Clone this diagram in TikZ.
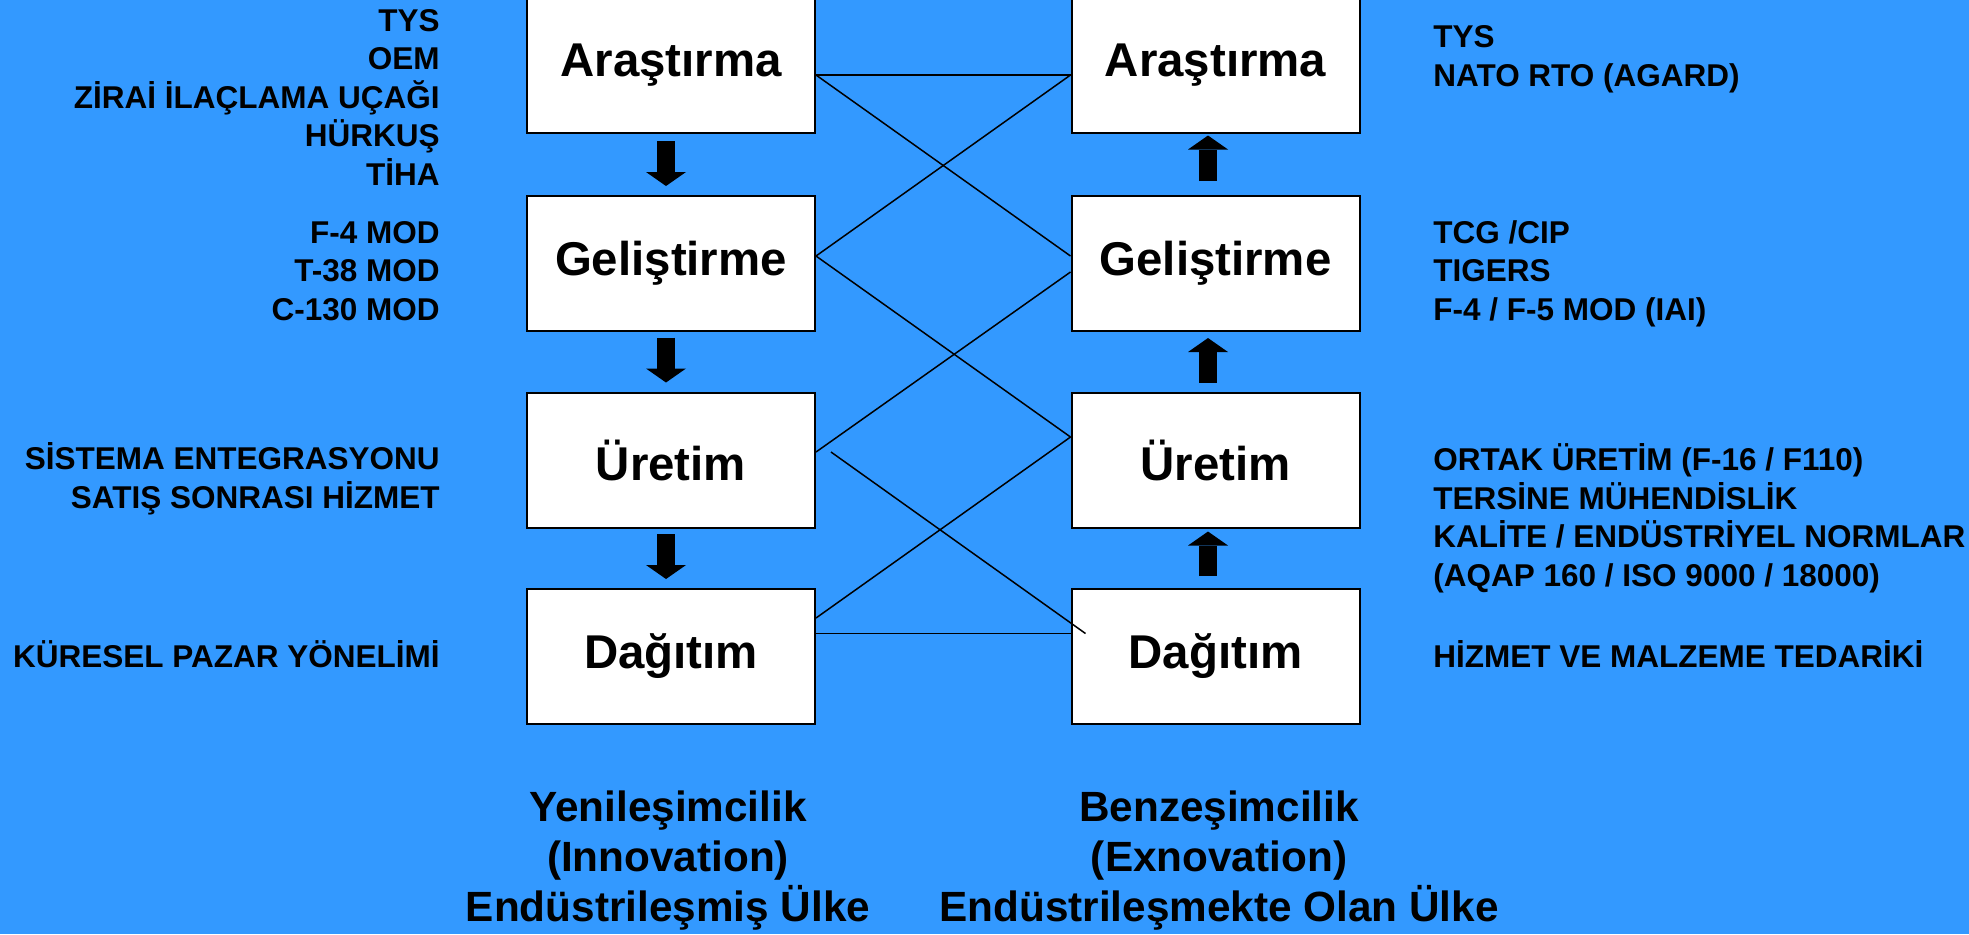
\documentclass[tikz,border=0pt]{standalone}
\usepackage{fontspec}
\setmainfont{Liberation Sans}
\usepackage{tikz}
\usetikzlibrary{arrows.meta}

\definecolor{slideblue}{RGB}{51,153,255}

\begin{document}
\begin{tikzpicture}[x=0.5pt,y=0.5pt]
        \tikzstyle{every node}+=[inner sep=0pt]
        \tikzstyle{stage}=[draw=black, fill=white, line width=1pt, minimum width=144pt, minimum height=67.5pt, font=\bfseries\fontsize{23.7}{28}\selectfont]
        \tikzstyle{note}=[font=\bfseries\fontsize{15.75}{19.25}\selectfont]
        \tikzstyle{caption}=[align=center, font=\bfseries\fontsize{21.15}{25}\selectfont]
        \tikzstyle{link}=[black, line width=0.75pt]
        \tikzstyle{flow}=[black, line width=9pt, -{Triangle[length=7pt,width=20pt,line width=0pt]}]
        \useasboundingbox (0,0) rectangle (1969,-934);
        \fill [slideblue] (0,0) rectangle (1969,-934);
        % left column
        \node [stage] (arL) at (671,-65.5) {Araştırma};
        \node [stage] (geL) at (671,-263.5) {Geliştirme};
        \node [stage] (urL) at (671,-460) {Üretim};
        \node [stage] (daL) at (671,-656.5) {Dağıtım};
        % right column
        \node [stage] (arR) at (1215.5,-65.5) {Araştırma};
        \node [stage] (geR) at (1215.5,-263.5) {Geliştirme};
        \node [stage] (urR) at (1215.5,-460) {Üretim};
        \node [stage] (daR) at (1215.5,-656.5) {Dağıtım};
        % down arrows
        \draw [flow] ([xshift=-2.5pt,yshift=-3.5pt]arL.south) -- ([xshift=-2.5pt,yshift=4.5pt]geL.north);
        \draw [flow] ([xshift=-2.5pt,yshift=-2.75pt]geL.south) -- ([xshift=-2.5pt,yshift=4.5pt]urL.north);
        \draw [flow] ([xshift=-2.5pt,yshift=-2.75pt]urL.south) -- ([xshift=-2.5pt,yshift=4.5pt]daL.north);
        % up arrows
        \draw [flow] ([xshift=-3.75pt,yshift=7pt]geR.north) -- ([xshift=-3.75pt,yshift=-0.75pt]arR.south);
        \draw [flow] ([xshift=-3.75pt,yshift=4.5pt]urR.north) -- ([xshift=-3.75pt,yshift=-3pt]geR.south);
        \draw [flow] ([xshift=-3.75pt,yshift=6pt]daR.north) -- ([xshift=-3.75pt,yshift=-1.5pt]urR.south);
        % cross links
        \draw [link] ([yshift=-4.75pt]arL.east) -- ([yshift=-4.75pt]arR.west);
        \draw [link] ([yshift=-4.75pt]arL.east) -- ([yshift=3.75pt]geR.west);
        \draw [link] ([yshift=-4.75pt]arR.west) -- ([yshift=3.75pt]geL.east);
        \draw [link] ([yshift=3.75pt]geL.east) -- ([yshift=11.5pt]urR.west);
        \draw [link] ([yshift=-4.25pt]geR.west) -- ([yshift=4pt]urL.east);
        \draw [link] ([xshift=7.5pt,yshift=4pt]urL.east) -- ([xshift=7.5pt,yshift=11.5pt]daR.west);
        \draw [link] ([yshift=11.5pt]urR.west) -- ([yshift=19.25pt]daL.east);
        \draw [link] ([yshift=11.5pt]daL.east) -- ([yshift=11.5pt]daR.west);
        % left notes (anchored on the last line)
        \node [note, align=right, anchor=base east] (nArL) at (440,-185) {TYS\\OEM\\ZİRAİ İLAÇLAMA UÇAĞI\\HÜRKUŞ\\TİHA};
        \node [note, align=right, anchor=base east] (nGeL) at (440,-320) {F-4 MOD\\T-38 MOD\\C-130 MOD};
        \node [note, align=right, anchor=base east] (nUrL) at (440,-508) {SİSTEMA ENTEGRASYONU\\SATIŞ SONRASI HİZMET};
        \node [note, align=right, anchor=base east] (nDaL) at (440,-667) {KÜRESEL PAZAR YÖNELİMİ};
        % right notes
        \node [note, align=left, anchor=base west] (nArR) at (1433,-86) {TYS\\NATO RTO (AGARD)};
        \node [note, align=left, anchor=base west] (nGeR) at (1433,-320) {TCG /CIP\\TIGERS\\F-4 / F-5 MOD (IAI)};
        \node [note, align=left, anchor=base west] (nUrR) at (1433,-586) {ORTAK ÜRETİM (F-16 / F110)\\TERSİNE MÜHENDİSLİK\\KALİTE / ENDÜSTRİYEL NORMLAR\\(AQAP 160 / ISO 9000 / 18000)};
        \node [note, align=left, anchor=base west] (nDaR) at (1433,-667) {HİZMET VE MALZEME TEDARİKİ};
        % captions
        \node [caption, anchor=base] (capL) at (668,-921) {Yenileşimcilik\\(Innovation)\\Endüstrileşmiş Ülke};
        \node [caption, anchor=base] (capR) at (1219,-921) {Benzeşimcilik\\(Exnovation)\\Endüstrileşmekte Olan Ülke};
\end{tikzpicture}
\end{document}
